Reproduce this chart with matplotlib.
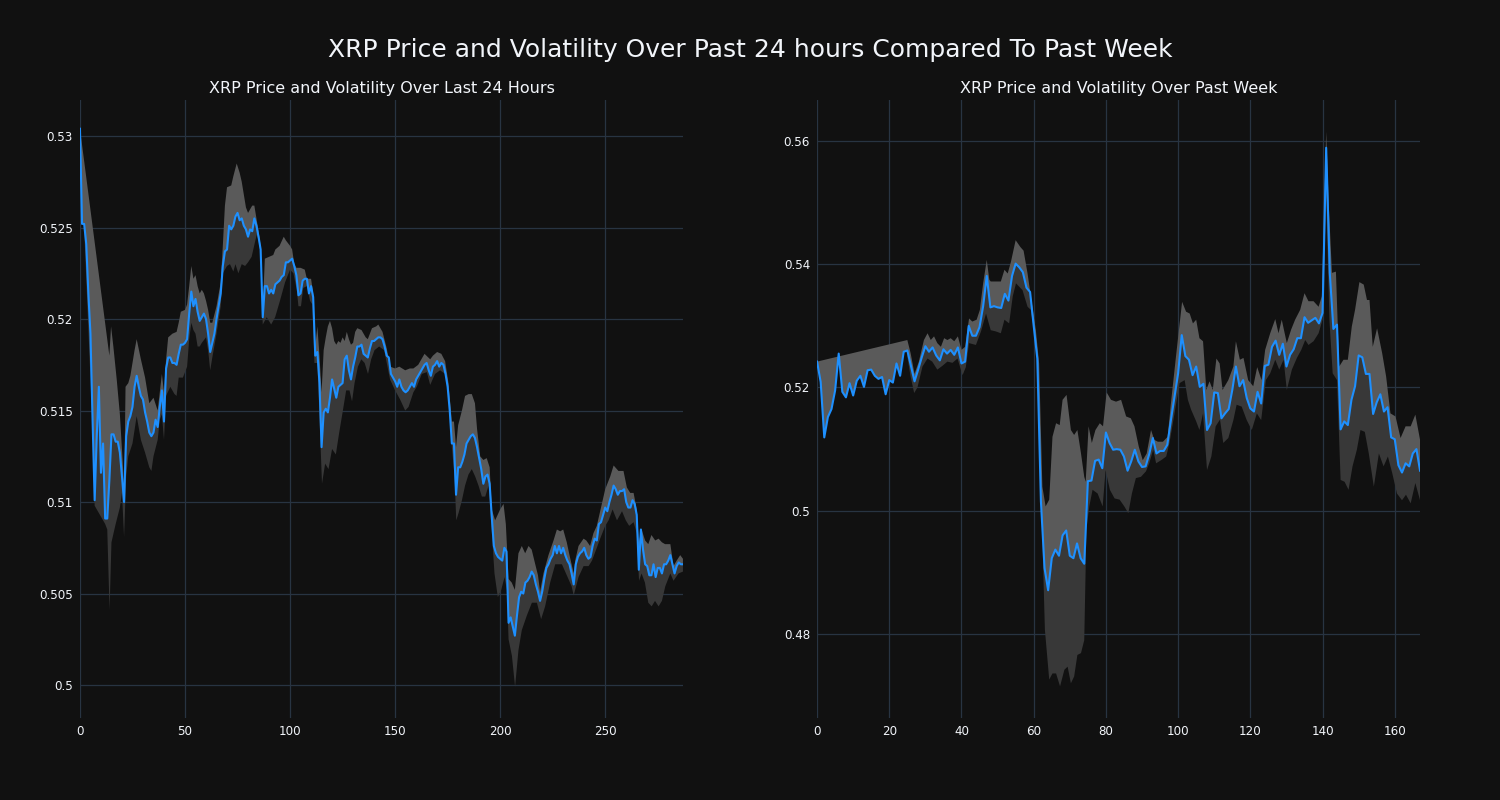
# XRP price + volatility band, last 24h vs past week (dark theme)
import numpy as np
import matplotlib.pyplot as plt
from matplotlib.ticker import FuncFormatter

BG = "#111111"
GRID = "#283442"
TXT = "#f2f5fa"
LINE = "#1e90ff"
BAND_UP = "#5a5a5a"
BAND_LO = "#383838"

# ---------- data: last 24 hours (5 min steps) ----------
day_price = [
    0.5304, 0.5252, 0.5252, 0.5241, 0.5214, 0.5192, 0.5145, 0.5101, 0.5136, 0.5163,
    0.5116, 0.5132, 0.5091, 0.5091, 0.5112, 0.5137, 0.5137, 0.5133, 0.5133, 0.5127,
    0.5114, 0.5100, 0.5136, 0.5144, 0.5147, 0.5152, 0.5163, 0.5169, 0.5163, 0.5158,
    0.5156, 0.5149, 0.5144, 0.5138, 0.5136, 0.5138, 0.5145, 0.5141, 0.5152, 0.5161,
    0.5144, 0.5173, 0.5179, 0.5179, 0.5176, 0.5176, 0.5175, 0.5181, 0.5186, 0.5186,
    0.5187, 0.5189, 0.5203, 0.5215, 0.5207, 0.5211, 0.5204, 0.5199, 0.5201, 0.5203,
    0.5200, 0.5192, 0.5182, 0.5187, 0.5192, 0.5200, 0.5207, 0.5214, 0.5229, 0.5237,
    0.5238, 0.5251, 0.5249, 0.5251, 0.5256, 0.5258, 0.5254, 0.5255, 0.5251, 0.5249,
    0.5245, 0.5249, 0.5248, 0.5255, 0.5251, 0.5245, 0.5238, 0.5201, 0.5218, 0.5218,
    0.5214, 0.5216, 0.5214, 0.5219, 0.5220, 0.5221, 0.5223, 0.5224, 0.5231, 0.5231,
    0.5232, 0.5233, 0.5229, 0.5224, 0.5213, 0.5214, 0.5221, 0.5222, 0.5222, 0.5214,
    0.5218, 0.5212, 0.5180, 0.5182, 0.5165, 0.5130, 0.5149, 0.5151, 0.5149, 0.5157,
    0.5167, 0.5162, 0.5157, 0.5163, 0.5164, 0.5165, 0.5178, 0.5180, 0.5172, 0.5167,
    0.5174, 0.5179, 0.5185, 0.5185, 0.5186, 0.5181, 0.5180, 0.5179, 0.5184, 0.5188,
    0.5188, 0.5189, 0.5190, 0.5190, 0.5189, 0.5185, 0.5180, 0.5179, 0.5170, 0.5168,
    0.5166, 0.5163, 0.5167, 0.5163, 0.5161, 0.5160, 0.5161, 0.5163, 0.5165, 0.5163,
    0.5167, 0.5169, 0.5171, 0.5173, 0.5175, 0.5176, 0.5172, 0.5169, 0.5174, 0.5175,
    0.5177, 0.5174, 0.5176, 0.5175, 0.5170, 0.5163, 0.5150, 0.5132, 0.5132, 0.5104,
    0.5119, 0.5119, 0.5122, 0.5126, 0.5132, 0.5134, 0.5136, 0.5137, 0.5135, 0.5130,
    0.5124, 0.5118, 0.5110, 0.5114, 0.5115, 0.5110, 0.5092, 0.5076, 0.5072, 0.5070,
    0.5069, 0.5068, 0.5075, 0.5073, 0.5034, 0.5037, 0.5032, 0.5027, 0.5038, 0.5048,
    0.5051, 0.5050, 0.5056, 0.5057, 0.5059, 0.5062, 0.5060, 0.5055, 0.5051, 0.5046,
    0.5051, 0.5058, 0.5064, 0.5066, 0.5069, 0.5071, 0.5076, 0.5072, 0.5076, 0.5072,
    0.5075, 0.5071, 0.5068, 0.5066, 0.5061, 0.5055, 0.5066, 0.5070, 0.5072, 0.5073,
    0.5075, 0.5071, 0.5069, 0.5070, 0.5076, 0.5080, 0.5079, 0.5088, 0.5089, 0.5093,
    0.5097, 0.5095, 0.5100, 0.5104, 0.5109, 0.5107, 0.5104, 0.5106, 0.5106, 0.5107,
    0.5100, 0.5097, 0.5097, 0.5101, 0.5099, 0.5093, 0.5063, 0.5085, 0.5074, 0.5066,
    0.5065, 0.5060, 0.5060, 0.5066, 0.5059, 0.5064, 0.5064, 0.5061, 0.5066, 0.5066,
    0.5068, 0.5071, 0.5066, 0.5061, 0.5065, 0.5067, 0.5066, 0.5066,
]

# volatility band edges (read where the edge turns)
day_up_x = [0, 14, 14.8, 15.9, 17.5, 19, 20.6, 21, 21.7, 23, 24, 26, 27, 29, 31, 33, 35, 37, 38, 39,
            40, 41, 42, 44, 46, 47, 48, 50, 51, 52, 53, 54, 55, 56, 57, 58, 59, 60, 61, 62,
            63, 65, 67, 68, 69, 70, 72, 73, 74.6, 76, 77, 78, 79, 80, 81, 82, 83, 84, 85, 86,
            87, 88, 90, 92, 93, 95, 97, 98, 100, 101, 102, 103, 105, 107, 108, 110, 111, 112, 113, 114,
            115, 116, 117, 118, 119, 120, 121, 122, 123, 124, 125, 126, 127, 128, 129, 130, 131, 132, 134, 136,
            137, 139, 141, 142, 144, 146, 147.6, 150, 152, 154.8, 157, 158.7, 161, 164, 166.7, 168, 170, 172, 173.8, 175.4,
            177, 178, 179, 180, 181.8, 183.3, 185, 186.5, 188, 189, 190.5, 192, 193.6, 195, 196, 197.6, 200, 201.6, 202.7, 204,
            205.5, 207, 208.7, 210.3, 211.9, 213.5, 215, 216.7, 218, 219, 220.6, 223, 225.4, 227, 228.6, 230, 231.7, 233, 235, 235.7,
            237.3, 239.7, 241, 242.8, 244.4, 246, 248, 250, 252.4, 254, 256.3, 258.7, 260.3, 261.9, 263.5, 265, 266, 267.3, 269, 270.5,
            272, 273.8, 275.4, 277, 278.5, 281, 282.5, 284, 285.7, 287]
day_up = [0.5304, 0.5180, 0.5196, 0.5185, 0.5167, 0.5148, 0.5117, 0.5102, 0.5163, 0.5165, 0.5169, 0.5183, 0.5189, 0.5178, 0.5168, 0.5154, 0.5157, 0.5150, 0.5160, 0.5170,
          0.5160, 0.5178, 0.5190, 0.5192, 0.5193, 0.5198, 0.5204, 0.5205, 0.5208, 0.5218, 0.5229, 0.5222, 0.5224, 0.5218, 0.5214, 0.5216, 0.5214, 0.5210, 0.5205, 0.5198,
          0.5198, 0.5207, 0.5220, 0.5240, 0.5262, 0.5272, 0.5273, 0.5278, 0.5285, 0.5280, 0.5275, 0.5268, 0.5261, 0.5258, 0.5260, 0.5262, 0.5262, 0.5255, 0.5248, 0.5240,
          0.5205, 0.5233, 0.5234, 0.5235, 0.5238, 0.5240, 0.5245, 0.5243, 0.5240, 0.5238, 0.5230, 0.5228, 0.5228, 0.5227, 0.5222, 0.5222, 0.5214, 0.5185, 0.5196, 0.5180,
          0.5160, 0.5183, 0.5190, 0.5196, 0.5199, 0.5195, 0.5188, 0.5186, 0.5188, 0.5187, 0.5190, 0.5188, 0.5193, 0.5189, 0.5186, 0.5187, 0.5193, 0.5195, 0.5194, 0.5190,
          0.5189, 0.5195, 0.5196, 0.5197, 0.5193, 0.5184, 0.5174, 0.5173, 0.5174, 0.5172, 0.5173, 0.5173, 0.5175, 0.5181, 0.5178, 0.5180, 0.5182, 0.5181, 0.5177, 0.5165,
          0.5144, 0.5144, 0.5130, 0.5142, 0.5150, 0.5158, 0.5159, 0.5159, 0.5154, 0.5140, 0.5125, 0.5123, 0.5124, 0.5119, 0.5096, 0.5090, 0.5096, 0.5099, 0.5088, 0.5058,
          0.5056, 0.5052, 0.5072, 0.5076, 0.5072, 0.5076, 0.5074, 0.5066, 0.5060, 0.5051, 0.5061, 0.5071, 0.5079, 0.5085, 0.5084, 0.5085, 0.5078, 0.5071, 0.5061, 0.5068,
          0.5076, 0.5080, 0.5079, 0.5076, 0.5083, 0.5087, 0.5097, 0.5107, 0.5114, 0.5120, 0.5117, 0.5117, 0.5108, 0.5105, 0.5105, 0.5096, 0.5078, 0.5085, 0.5079, 0.5077,
          0.5082, 0.5079, 0.5080, 0.5078, 0.5077, 0.5077, 0.5065, 0.5068, 0.5071, 0.5069]

day_lo_x = [0, 6, 7, 12, 13, 14.1, 15, 17, 19, 20, 21, 22, 23, 25, 27, 29, 31, 33, 34, 35,
            37, 38, 39, 40, 41, 43, 45, 46, 47, 49, 51, 52, 53, 54, 55, 56, 57, 58, 60, 61,
            62, 63, 65, 67, 68, 69, 70, 71.4, 73, 74, 75.4, 77, 78.6, 80, 81.7, 84.1, 85, 86, 87, 88.9,
            91, 92.9, 95.2, 97.6, 100, 101.6, 103.2, 104, 105.2, 106.3, 108, 109.5, 110.6, 111.6, 113, 114, 115.2, 116.7, 118.3, 120,
            121.8, 123.4, 125, 126.7, 128.3, 129.5, 130.7, 132.3, 133.9, 135.5, 137.1, 138.6, 140.2, 142.4, 144.8, 147.6, 150, 152.4, 154.8, 156.4,
            158.7, 160.3, 162.7, 165.1, 166.7, 169, 171.4, 173.8, 175.4, 177, 178.3, 179.1, 180.2, 181.8, 183.3, 184.9, 186.5, 188.1, 189.7, 191.3,
            192.9, 194.5, 195.7, 197.3, 198.9, 200.5, 202.1, 203.2, 204, 205.6, 207.1, 208.7, 210.3, 212.7, 215.1, 217.5, 219.5, 221.4, 223.8, 226.2,
            229.4, 231.7, 234, 235, 237.3, 239.7, 242.1, 243.7, 246, 247.6, 250, 251.6, 253.5, 255.6, 258, 259.8, 261.4, 263.5, 265, 266.1,
            267.3, 268.9, 270.5, 272.1, 273.7, 275.4, 277, 278.6, 281, 282.5, 284.9, 287]
day_lo = [0.5304, 0.5140, 0.5098, 0.5088, 0.5085, 0.5041, 0.5078, 0.5088, 0.5097, 0.5105, 0.5081, 0.5114, 0.5125, 0.5132, 0.5147, 0.5134, 0.5127, 0.5119, 0.5117, 0.5125,
          0.5134, 0.5145, 0.5148, 0.5134, 0.5158, 0.5163, 0.5159, 0.5158, 0.5168, 0.5168, 0.5174, 0.5189, 0.5198, 0.5194, 0.5192, 0.5185, 0.5185, 0.5187, 0.5190, 0.5183,
          0.5172, 0.5179, 0.5192, 0.5207, 0.5225, 0.5227, 0.5229, 0.5230, 0.5226, 0.5230, 0.5225, 0.5230, 0.5229, 0.5231, 0.5234, 0.5246, 0.5243, 0.5236, 0.5197, 0.5201,
          0.5197, 0.5201, 0.5210, 0.5220, 0.5227, 0.5225, 0.5216, 0.5207, 0.5207, 0.5217, 0.5218, 0.5210, 0.5208, 0.5176, 0.5176, 0.5147, 0.5110, 0.5121, 0.5118, 0.5129,
          0.5126, 0.5138, 0.5149, 0.5161, 0.5161, 0.5155, 0.5165, 0.5174, 0.5178, 0.5176, 0.5170, 0.5178, 0.5183, 0.5185, 0.5183, 0.5167, 0.5161, 0.5156, 0.5150, 0.5152,
          0.5160, 0.5163, 0.5170, 0.5171, 0.5164, 0.5170, 0.5172, 0.5170, 0.5161, 0.5130, 0.5114, 0.5090, 0.5094, 0.5101, 0.5109, 0.5115, 0.5118, 0.5114, 0.5109, 0.5103,
          0.5103, 0.5109, 0.5089, 0.5061, 0.5048, 0.5052, 0.5059, 0.5052, 0.5025, 0.5016, 0.4999, 0.5019, 0.5030, 0.5038, 0.5045, 0.5045, 0.5036, 0.5043, 0.5056, 0.5066,
          0.5066, 0.5060, 0.5054, 0.5049, 0.5059, 0.5065, 0.5065, 0.5068, 0.5075, 0.5080, 0.5087, 0.5090, 0.5096, 0.5090, 0.5095, 0.5090, 0.5087, 0.5089, 0.5083, 0.5057,
          0.5061, 0.5056, 0.5045, 0.5043, 0.5046, 0.5043, 0.5046, 0.5054, 0.5061, 0.5057, 0.5061, 0.5062]

# ---------- data: past week (hourly) ----------
week_price = [
    0.5242, 0.5209, 0.5119, 0.5152, 0.5165, 0.5195, 0.5255, 0.5193, 0.5184, 0.5207,
    0.5187, 0.5211, 0.5219, 0.5201, 0.5228, 0.5229, 0.5219, 0.5214, 0.5217, 0.5189,
    0.5212, 0.5208, 0.5239, 0.5219, 0.5258, 0.5260, 0.5235, 0.5210, 0.5229, 0.5249,
    0.5267, 0.5258, 0.5265, 0.5252, 0.5244, 0.5262, 0.5255, 0.5261, 0.5253, 0.5265,
    0.5239, 0.5242, 0.5300, 0.5284, 0.5284, 0.5298, 0.5332, 0.5381, 0.5330, 0.5332,
    0.5330, 0.5329, 0.5352, 0.5341, 0.5381, 0.5401, 0.5395, 0.5387, 0.5362, 0.5355,
    0.5300, 0.5247, 0.5015, 0.4907, 0.4871, 0.4923, 0.4937, 0.4927, 0.4960, 0.4968,
    0.4927, 0.4923, 0.4947, 0.4923, 0.4914, 0.5048, 0.5049, 0.5081, 0.5083, 0.5069,
    0.5127, 0.5110, 0.5099, 0.5100, 0.5099, 0.5088, 0.5065, 0.5080, 0.5099, 0.5080,
    0.5071, 0.5072, 0.5092, 0.5118, 0.5093, 0.5097, 0.5097, 0.5107, 0.5147, 0.5185,
    0.5223, 0.5285, 0.5251, 0.5245, 0.5220, 0.5234, 0.5201, 0.5206, 0.5131, 0.5142,
    0.5192, 0.5191, 0.5150, 0.5158, 0.5165, 0.5196, 0.5234, 0.5202, 0.5212, 0.5183,
    0.5166, 0.5161, 0.5193, 0.5174, 0.5235, 0.5237, 0.5266, 0.5276, 0.5253, 0.5271,
    0.5234, 0.5253, 0.5262, 0.5280, 0.5280, 0.5314, 0.5305, 0.5309, 0.5313, 0.5304,
    0.5321, 0.5589, 0.5386, 0.5295, 0.5302, 0.5132, 0.5145, 0.5139, 0.5180, 0.5202,
    0.5252, 0.5249, 0.5222, 0.5222, 0.5157, 0.5176, 0.5189, 0.5161, 0.5168, 0.5119,
    0.5116, 0.5074, 0.5062, 0.5077, 0.5072, 0.5093, 0.5100, 0.5065,
]

week_up_x = [0, 25, 25.9, 27, 28.2, 29.6, 30.6, 31.5, 32.4, 33.3, 34.3, 35.2, 36.1, 37, 38, 39, 40, 41, 42.1, 43,
             44.2, 45.1, 46, 47, 47.7, 48.1, 50.9, 51.9, 52.8, 53.7, 55, 56.3, 57.2, 58.3, 59.2, 60.6, 61.5, 62.4, 63.3, 64.3,
             65.2, 66.2, 67.2, 68, 69.1, 70.3, 71.2, 72.1, 73.1, 74, 74.4, 75.2, 76.1, 77.1, 78.3, 79.2, 80.2, 81.4, 82.8, 84.2,
             85.6, 86.9, 87.9, 89.1, 90.2, 91.3, 92.5, 93.4, 94.4, 95.8, 97.1, 98, 99.4, 101.1, 102.2, 103.2, 104.1, 105, 105.9, 106.9,
             107.8, 108.7, 109.6, 110.6, 111.5, 112.3, 113.9, 115.3, 116, 117.1, 118.1, 119.4, 120.8, 121.9, 123.1, 124.1, 125.5, 126.9, 127.8, 128.7,
             130.1, 131.3, 132.4, 133.8, 135, 136.1, 137.5, 138.9, 139.8, 141, 141.7, 142.6, 143.7, 144.6, 145.8, 147, 148.1, 149, 150.2, 151.4,
             152.3, 153, 153.9, 155.1, 156.5, 157.6, 158.8, 160.2, 161.6, 163, 164.4, 165.7, 167]
week_up = [0.5242, 0.5277, 0.5256, 0.5222, 0.5242, 0.5277, 0.5288, 0.5277, 0.5283, 0.5272, 0.5266, 0.5280, 0.5277, 0.5280, 0.5275, 0.5283, 0.5261, 0.5266, 0.5312, 0.5307,
           0.5310, 0.5326, 0.5369, 0.5407, 0.5375, 0.5372, 0.5372, 0.5391, 0.5385, 0.5404, 0.5439, 0.5428, 0.5422, 0.5385, 0.5348, 0.5293, 0.5239, 0.5039, 0.5007, 0.5018,
           0.5120, 0.5142, 0.5139, 0.5180, 0.5188, 0.5131, 0.5123, 0.5131, 0.5093, 0.5055, 0.5047, 0.5137, 0.5110, 0.5131, 0.5142, 0.5137, 0.5192, 0.5180, 0.5177, 0.5180,
           0.5153, 0.5150, 0.5137, 0.5104, 0.5082, 0.5093, 0.5131, 0.5115, 0.5112, 0.5112, 0.5120, 0.5174, 0.5250, 0.5339, 0.5323, 0.5320, 0.5304, 0.5310, 0.5280, 0.5275,
           0.5196, 0.5210, 0.5196, 0.5247, 0.5239, 0.5196, 0.5212, 0.5234, 0.5275, 0.5245, 0.5248, 0.5212, 0.5202, 0.5233, 0.5212, 0.5261, 0.5288, 0.5311, 0.5288, 0.5310,
           0.5272, 0.5294, 0.5310, 0.5326, 0.5353, 0.5340, 0.5340, 0.5331, 0.5348, 0.5615, 0.5499, 0.5386, 0.5388, 0.5234, 0.5245, 0.5245, 0.5299, 0.5326, 0.5371, 0.5367,
           0.5342, 0.5342, 0.5266, 0.5296, 0.5256, 0.5218, 0.5158, 0.5153, 0.5118, 0.5137, 0.5137, 0.5156, 0.5115]

week_lo_x = [25, 25.9, 26.9, 27.8, 29.2, 30.6, 31.9, 33.3, 34.7, 36.1, 37.5, 38.9, 40.3, 41.2, 42.1, 44, 45.4, 46.8, 48.1, 49.5,
             50.9, 51.9, 53.2, 54.2, 55.1, 56.9, 58.3, 59.2, 60.1, 61.1, 62.2, 63.1, 64.3, 65.2, 66.2, 67.3, 68.5, 69.4, 70.3, 71.2,
             72.1, 73.1, 74, 74.6, 75.4, 76.3, 77.7, 79.1, 79.9, 81.1, 82.4, 83.8, 85.1, 86.2, 87.2, 88.3, 89.7, 91.1, 92, 93.1,
             93.9, 95.3, 96.7, 97.6, 99, 100.4, 101.8, 102.7, 103.6, 105, 105.9, 106.9, 108, 109.2, 110.4, 111.6, 112.5, 113.9, 115.3, 116.2,
             117.6, 119, 120.4, 121.8, 123, 124.3, 125.5, 126.9, 128, 129.2, 130.1, 131.5, 132.9, 134.1, 135.2, 136.1, 137.5, 138.9, 140, 141,
             141.9, 142.8, 144, 145, 146.1, 147.2, 148.3, 149.5, 150.5, 151.7, 152.8, 154.2, 155.6, 156.9, 158.1, 159.3, 160.6, 162, 163.1, 164.4,
             165.7, 167]
week_lo = [0.5250, 0.5218, 0.5191, 0.5200, 0.5234, 0.5247, 0.5242, 0.5229, 0.5235, 0.5242, 0.5240, 0.5247, 0.5220, 0.5233, 0.5272, 0.5269, 0.5291, 0.5320, 0.5293, 0.5291,
           0.5288, 0.5310, 0.5304, 0.5348, 0.5369, 0.5358, 0.5331, 0.5326, 0.5293, 0.5239, 0.4996, 0.4807, 0.4726, 0.4736, 0.4736, 0.4715, 0.4742, 0.4747, 0.4720, 0.4731,
           0.4766, 0.4769, 0.4790, 0.4969, 0.5007, 0.5034, 0.5028, 0.5007, 0.5066, 0.5034, 0.5020, 0.5018, 0.5007, 0.4996, 0.5028, 0.5053, 0.5055, 0.5064, 0.5077, 0.5099,
           0.5077, 0.5082, 0.5088, 0.5110, 0.5158, 0.5207, 0.5212, 0.5180, 0.5164, 0.5145, 0.5131, 0.5158, 0.5066, 0.5088, 0.5137, 0.5148, 0.5110, 0.5118, 0.5147, 0.5172,
           0.5169, 0.5147, 0.5131, 0.5158, 0.5147, 0.5212, 0.5223, 0.5245, 0.5229, 0.5245, 0.5196, 0.5229, 0.5248, 0.5261, 0.5277, 0.5269, 0.5275, 0.5288, 0.5310, 0.5510,
           0.5310, 0.5223, 0.5212, 0.5050, 0.5047, 0.5034, 0.5072, 0.5099, 0.5131, 0.5128, 0.5093, 0.5039, 0.5093, 0.5072, 0.5088, 0.5061, 0.5028, 0.5017, 0.5026, 0.5012,
           0.5045, 0.5017]


def band(ax, x, price, ex, ey, color):
    # polygon between a band edge and the price line over the edge's span
    ex = np.asarray(ex, float)
    m = (x >= ex[0]) & (x <= ex[-1])
    px = np.concatenate([ex, x[m][::-1]])
    py = np.concatenate([ey, price[m][::-1]])
    ax.fill(px, py, color=color, lw=0, zorder=1)


def panel(ax, price, up_x, up, lo_x, lo, title, ylim, yticks, xticks):
    price = np.asarray(price)
    x = np.arange(len(price))
    band(ax, x, price, lo_x, lo, BAND_LO)
    band(ax, x, price, up_x, up, BAND_UP)
    ax.plot(x, price, color=LINE, lw=1.5, zorder=3)

    ax.set_facecolor(BG)
    ax.set_xlim(0, len(price) - 1)
    ax.set_ylim(*ylim)
    ax.set_xticks(xticks)
    ax.set_yticks(yticks)
    ax.yaxis.set_major_formatter(FuncFormatter(lambda v, p: f"{v:g}"))
    ax.grid(True, color=GRID, lw=0.9, zorder=0)
    ax.set_axisbelow(True)
    for s in ax.spines.values():
        s.set_visible(False)
    ax.tick_params(colors=TXT, labelsize=8.6, length=0, pad=5)
    ax.set_title(title, color=TXT, fontsize=11.5, pad=5)


fig = plt.figure(figsize=(15, 8), dpi=100, facecolor=BG)
ax1 = fig.add_axes([0.0533, 0.1025, 0.402, 0.7725])
ax2 = fig.add_axes([0.5447, 0.1025, 0.402, 0.7725])

panel(ax1, day_price, day_up_x, day_up, day_lo_x, day_lo,
      "XRP Price and Volatility Over Last 24 Hours",
      (0.49820, 0.53197), [0.5, 0.505, 0.51, 0.515, 0.52, 0.525, 0.53],
      [0, 50, 100, 150, 200, 250])
panel(ax2, week_price, week_up_x, week_up, week_lo_x, week_lo,
      "XRP Price and Volatility Over Past Week",
      (0.46637, 0.56665), [0.48, 0.5, 0.52, 0.54, 0.56],
      [0, 20, 40, 60, 80, 100, 120, 140, 160])

fig.suptitle("XRP Price and Volatility Over Past 24 hours Compared To Past Week",
             color=TXT, fontsize=18, y=0.9375, va="center")

fig.savefig("out.png", dpi=100, facecolor=BG)
